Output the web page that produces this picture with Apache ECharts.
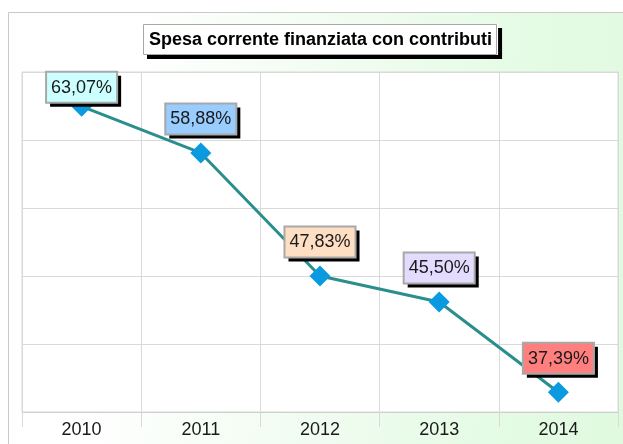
<!DOCTYPE html>
<html>
<head>
<meta charset="utf-8">
<script src="https://cdn.jsdelivr.net/npm/echarts@6/dist/echarts.min.js"></script>
<style>
  html, body { margin: 0; padding: 0; background: #ffffff; }
  #chart { width: 623px; height: 444px; }
</style>
</head>
<body>
<div id="chart"></div>
<script>
// Quota della spesa corrente finanziata con contributi, per anno
const years = ['2010', '2011', '2012', '2013', '2014'];
const shares = [63.07, 58.88, 47.83, 45.50, 37.39];

// Colori di sfondo delle etichette, uno per anno
const labelColors = ['#ccffff', '#99ccff', '#ffdfc4', '#e4dcff', '#ff7f7f'];

const FONT = '"Liberation Sans", Arial, sans-serif';

function fmt(v) {
  return v.toFixed(2).replace('.', ',') + '%';
}

function labelDistance(i) {
  return i === 0 ? -7 : 8;
}

// riquadri colorati con ombra nera
const seriesData = shares.map(function (v, i) {
  return {
    value: v,
    label: { backgroundColor: labelColors[i], distance: labelDistance(i) }
  };
});

// sola cornice grigia dei riquadri, sopra l'ombra
const frameData = shares.map(function (v, i) {
  return { value: v, label: { distance: labelDistance(i) } };
});

const labelBase = {
  show: true,
  position: 'top',
  formatter: function (p) { return fmt(p.value); },
  fontFamily: FONT,
  fontSize: 18,
  lineHeight: 18,
  padding: [7, 5, 6, 5]
};

const chart = echarts.init(document.getElementById('chart'), null, { renderer: 'canvas' });

chart.setOption({
  animation: false,
  backgroundColor: '#ffffff',
  graphic: [{
    // pannello di fondo con sfumatura verso il verde
    type: 'rect',
    z: -10,
    silent: true,
    shape: { x: 8.5, y: 12.5, width: 640, height: 460 },
    style: {
      fill: new echarts.graphic.LinearGradient(0, 0, 1, 0.15, [
        { offset: 0, color: '#ffffff' },
        { offset: 0.18, color: '#ffffff' },
        { offset: 0.55, color: '#f0fcf0' },
        { offset: 0.85, color: '#e3fbe3' },
        { offset: 1, color: '#e0fae0' }
      ]),
      stroke: '#c8c8c8',
      lineWidth: 1
    }
  }, {
    // cornice del titolo
    type: 'rect',
    z: 100,
    silent: true,
    shape: { x: 143.5, y: 24.5, width: 353, height: 30 },
    style: { fill: null, stroke: '#a8a8a8', lineWidth: 1 }
  }],
  title: {
    text: 'Spesa corrente finanziata con contributi',
    left: 143,
    top: 24,
    padding: [7, 6, 6, 6],
    backgroundColor: '#ffffff',
    borderWidth: 0,
    shadowColor: '#000000',
    shadowBlur: 0,
    shadowOffsetX: 4,
    shadowOffsetY: 4,
    textStyle: {
      fontFamily: FONT,
      fontSize: 18,
      fontWeight: 'bold',
      color: '#000000',
      lineHeight: 18
    }
  },
  grid: {
    left: 22,
    right: 5,
    top: 72,
    bottom: 32,
    show: true,
    backgroundColor: '#ffffff',
    borderColor: '#d9d9d9',
    borderWidth: 1
  },
  xAxis: {
    type: 'category',
    data: years,
    boundaryGap: true,
    axisLine: { show: true, lineStyle: { color: '#cfcfcf', width: 1 } },
    axisTick: { show: true, length: 15, lineStyle: { color: '#d9d9d9' } },
    splitLine: { show: true, lineStyle: { color: '#d9d9d9', width: 1 } },
    axisLabel: {
      fontFamily: FONT,
      fontSize: 18,
      color: '#1a1a1a',
      margin: 9
    }
  },
  yAxis: [{
    // griglia orizzontale
    type: 'value',
    min: 36,
    max: 66,
    interval: 6,
    axisLine: { show: false },
    axisTick: { show: false },
    axisLabel: { show: false },
    splitLine: { show: true, lineStyle: { color: '#d9d9d9', width: 1 } }
  }, {
    // scala dei valori della serie
    type: 'value',
    min: 35.62,
    max: 66.15,
    show: false,
    splitLine: { show: false }
  }],
  series: [{
    type: 'line',
    yAxisIndex: 1,
    data: seriesData,
    symbol: 'diamond',
    symbolSize: 21,
    itemStyle: { color: '#0a9ae0' },
    lineStyle: { color: '#2a8f8c', width: 3 },
    label: Object.assign({}, labelBase, {
      color: '#1a1a1a',
      borderWidth: 0,
      shadowColor: '#000000',
      shadowBlur: 0,
      shadowOffsetX: 4,
      shadowOffsetY: 4
    }),
    z: 3
  }, {
    type: 'line',
    yAxisIndex: 1,
    data: frameData,
    silent: true,
    symbol: 'diamond',
    symbolSize: 21,
    itemStyle: { color: 'rgba(0,0,0,0)' },
    lineStyle: { color: 'rgba(0,0,0,0)', width: 0 },
    label: Object.assign({}, labelBase, {
      color: 'rgba(0,0,0,0)',
      backgroundColor: 'rgba(0,0,0,0)',
      borderColor: '#a8a8a8',
      borderWidth: 1
    }),
    z: 4
  }]
});
</script>
</body>
</html>
